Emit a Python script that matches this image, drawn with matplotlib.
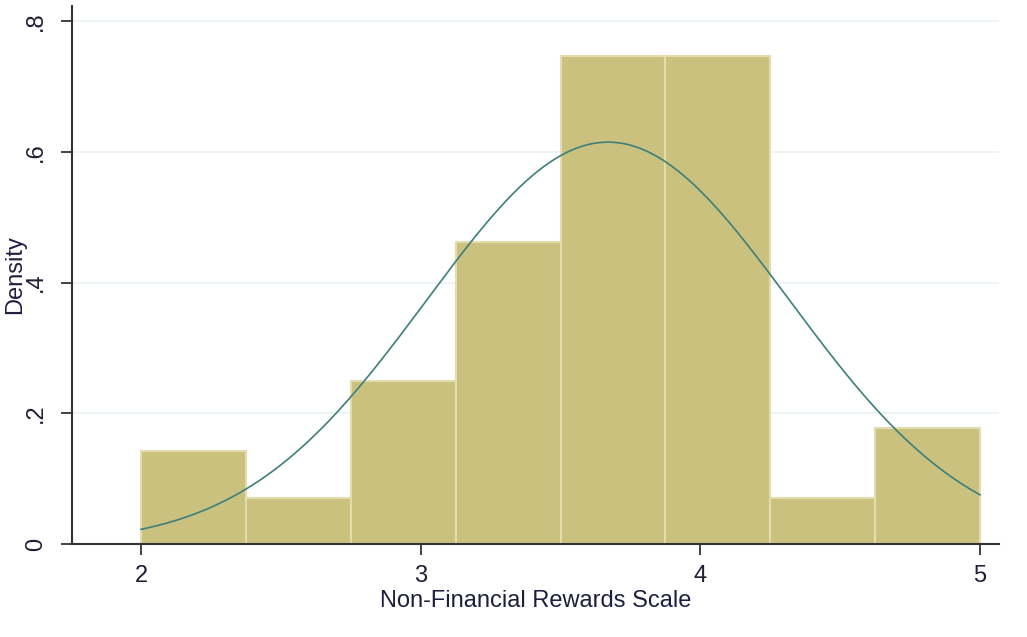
import numpy as np
import matplotlib
matplotlib.use("Agg")
import matplotlib.pyplot as plt

plt.rcParams['font.family'] = ['Liberation Sans', 'DejaVu Sans']

# Histogram of the scale: bin edges and densities
bin_edges = [2.0, 2.375, 2.75, 3.125, 3.5, 3.875, 4.25, 4.625, 5.0]
densities = [0.142, 0.071, 0.249, 0.462, 0.747, 0.747, 0.071, 0.178]

# Normal density overlay
norm_mean = 3.67
norm_sd = 0.649

x_ticks = [2, 3, 4, 5]
y_ticks = [0, 0.2, 0.4, 0.6, 0.8]
y_ticklabels = ["0", ".2", ".4", ".6", ".8"]

fig = plt.figure(figsize=(10.27, 6.37), dpi=100)
ax = fig.add_axes([0.0701, 0.146, 0.9026, 0.8446])

widths = np.diff(bin_edges)
ax.bar(bin_edges[:-1], densities, width=widths, align='edge',
       color='#CBC17E', edgecolor='#E2DCAE', linewidth=1.5, zorder=2)

xs = np.linspace(bin_edges[0], bin_edges[-1], 400)
pdf = np.exp(-0.5 * ((xs - norm_mean) / norm_sd) ** 2) / (norm_sd * np.sqrt(2 * np.pi))
ax.plot(xs, pdf, color='#3D7F7B', linewidth=1.2, zorder=3)

ax.set_xlim(1.753, 5.068)
ax.set_ylim(0, 0.823)
ax.set_xticks(x_ticks)
ax.set_xticklabels([str(t) for t in x_ticks])
ax.set_yticks(y_ticks)
ax.set_yticklabels(y_ticklabels, rotation=90, va='center')

for y in y_ticks[1:]:
    ax.axhline(y, color='#EAF2F2', linewidth=1.2, zorder=1)

for side in ('top', 'right'):
    ax.spines[side].set_visible(False)
for side in ('left', 'bottom'):
    ax.spines[side].set_color('#333333')
    ax.spines[side].set_linewidth(1.5)

ax.tick_params(axis='both', direction='out', length=8, width=1.3,
               color='#333333', labelsize=17, labelcolor='#1e1e36')
ax.tick_params(axis='x', pad=7)
ax.tick_params(axis='y', pad=10)

ax.set_xlabel("Non-Financial Rewards Scale", fontsize=17, color='#1e1e40', labelpad=2)
ax.set_ylabel("Density", fontsize=17, color='#1e1e40', labelpad=-1)

fig.savefig("out.png", dpi=100, facecolor='white')
